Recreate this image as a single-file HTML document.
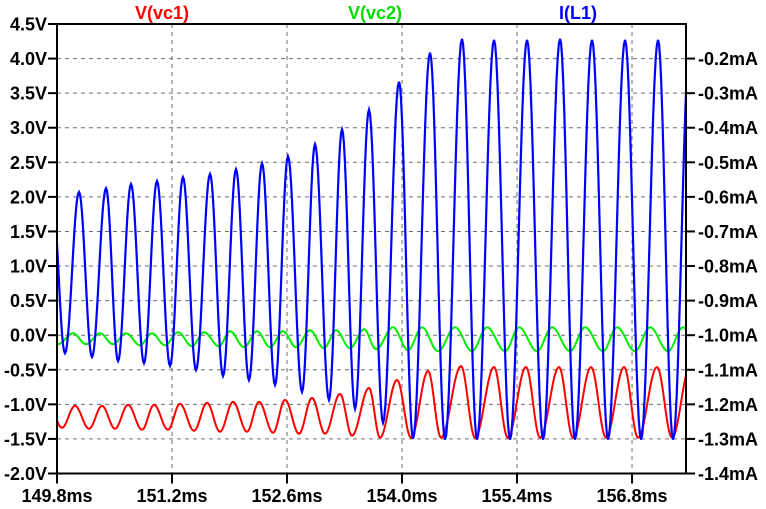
<!DOCTYPE html>
<html><head><meta charset="utf-8">
<style>
html,body{margin:0;padding:0;background:#fff;}
svg{display:block;font-family:"Liberation Sans",Arial,sans-serif;font-weight:bold;}
</style></head>
<body>
<svg id="chart" width="766" height="509" viewBox="0 0 766 509">
  <defs><clipPath id="plotclip"><rect x="57" y="24" width="629" height="450"/></clipPath></defs>
  <g id="grid"></g>
  <g id="series" clip-path="url(#plotclip)"></g>
  <rect x="57" y="24" width="629" height="449.5" fill="none" stroke="#000" stroke-width="2"/>
  <g id="axes"></g>
  <text x="162" y="19" fill="#ff0000" font-size="18" text-anchor="middle">V(vc1)</text>
  <text x="375" y="19" fill="#00dd00" font-size="18" text-anchor="middle">V(vc2)</text>
  <text x="578" y="19" fill="#0000ff" font-size="18" text-anchor="middle">I(L1)</text>
</svg>
<script>
// ---- axis data ----
const xTicks = [149.8, 151.2, 152.6, 154.0, 155.4, 156.8];
const xTickLabels = ["149.8ms","151.2ms","152.6ms","154.0ms","155.4ms","156.8ms"];
const yTicks = [4.5,4.0,3.5,3.0,2.5,2.0,1.5,1.0,0.5,0.0,-0.5,-1.0,-1.5,-2.0];
const yTickLabels = ["4.5V","4.0V","3.5V","3.0V","2.5V","2.0V","1.5V","1.0V","0.5V","0.0V","-0.5V","-1.0V","-1.5V","-2.0V"];
const y2Ticks = [-0.2,-0.3,-0.4,-0.5,-0.6,-0.7,-0.8,-0.9,-1.0,-1.1,-1.2,-1.3,-1.4];
const y2TickLabels = ["-0.2mA","-0.3mA","-0.4mA","-0.5mA","-0.6mA","-0.7mA","-0.8mA","-0.9mA","-1.0mA","-1.1mA","-1.2mA","-1.3mA","-1.4mA"];

// ---- series data: extrema (time ms, value) ----
const vc1Times = [149.703,149.861,150.019,150.190,150.348,150.506,150.664,150.835,150.981,151.151,151.297,151.468,151.626,151.784,151.943,152.113,152.259,152.430,152.576,152.746,152.904,153.063,153.245,153.391,153.598,153.732,153.939,154.110,154.317,154.475,154.718,154.889,155.120,155.287,155.509,155.680,155.911,156.082,156.301,156.483,156.703,156.873,157.104,157.287,157.506];
const vc1Values = [-1.022,-1.338,-1.022,-1.353,-1.022,-1.353,-1.008,-1.367,-1.008,-1.367,-0.993,-1.382,-0.979,-1.396,-0.964,-1.396,-0.964,-1.410,-0.936,-1.425,-0.907,-1.425,-0.849,-1.453,-0.763,-1.482,-0.648,-1.482,-0.519,-1.482,-0.447,-1.482,-0.461,-1.482,-0.461,-1.482,-0.461,-1.482,-0.461,-1.482,-0.461,-1.482,-0.461,-1.482,-0.461];

const vc2Times = [149.812,149.995,150.153,150.323,150.482,150.640,150.810,150.957,151.115,151.273,151.443,151.590,151.772,151.906,152.077,152.235,152.393,152.551,152.710,152.880,153.050,153.197,153.367,153.537,153.684,153.890,154.073,154.243,154.438,154.645,154.852,155.035,155.255,155.424,155.643,155.826,156.045,156.228,156.447,156.617,156.836,157.019,157.238,157.421,157.628];
const vc2Values = [-0.130,0.028,-0.130,0.028,-0.130,0.028,-0.145,0.028,-0.145,0.042,-0.159,0.042,-0.159,0.057,-0.173,0.057,-0.173,0.057,-0.173,0.071,-0.188,0.071,-0.188,0.085,-0.202,0.114,-0.216,0.114,-0.231,0.114,-0.231,0.114,-0.231,0.114,-0.231,0.114,-0.231,0.114,-0.231,0.114,-0.231,0.114,-0.231,0.114,-0.231];

const il1Times = [149.739,149.897,150.068,150.226,150.397,150.543,150.701,150.859,151.017,151.176,151.334,151.492,151.663,151.821,151.979,152.137,152.296,152.454,152.612,152.783,152.941,153.111,153.270,153.428,153.598,153.769,153.964,154.134,154.341,154.524,154.730,154.913,155.120,155.315,155.522,155.717,155.924,156.106,156.313,156.508,156.715,156.910,157.117,157.299,157.506];
const il1Values = [-0.583,-1.052,-0.586,-1.063,-0.575,-1.075,-0.563,-1.081,-0.554,-1.089,-0.543,-1.101,-0.534,-1.118,-0.520,-1.130,-0.503,-1.144,-0.483,-1.164,-0.448,-1.187,-0.405,-1.213,-0.348,-1.253,-0.267,-1.299,-0.183,-1.302,-0.143,-1.302,-0.146,-1.302,-0.146,-1.302,-0.143,-1.302,-0.146,-1.302,-0.146,-1.302,-0.146,-1.302,-0.146];

// ---- axis functions ----
const X0=57, X1=686, T0=149.8, T1=157.457;
const YTOP=24, YBOT=473.5;
function xs(t){ return X0 + (t-T0)/(T1-T0)*(X1-X0); }
function ys(v){ return YBOT - (v+2.0)/6.5*(YBOT-YTOP); }
function ys2(i){ return YBOT - (i+1.4)/1.3*(YBOT-YTOP); }

const NS="http://www.w3.org/2000/svg";
const grid=document.getElementById('grid'), axes=document.getElementById('axes'), series=document.getElementById('series');
function mk(tag, attrs, parent){ const e=document.createElementNS(NS,tag); for(const k in attrs) e.setAttribute(k,attrs[k]); parent.appendChild(e); return e; }

xTicks.forEach((t,i)=>{
  const x=xs(t);
  if(i>0){ const g=mk('line',{x1:x,y1:YTOP,x2:x,y2:YBOT,stroke:'#707070','stroke-width':1,'stroke-dasharray':'4,4'},grid);
      }
  const tk=mk('line',{x1:x,y1:YBOT,x2:x,y2:YBOT+10,stroke:'#000','stroke-width':2},axes);
   
  const tx=mk('text',{x:x,y:502,'font-size':18,'text-anchor':'middle',fill:'#000'},axes);
   
  tx.textContent=xTickLabels[i];
});
yTicks.forEach((v,i)=>{
  const y=ys(v);
  if(i>0 && i<yTicks.length-1){ const g=mk('line',{x1:X0,y1:y,x2:X1,y2:y,stroke:'#707070','stroke-width':1,'stroke-dasharray':'4,4'},grid);
      }
  const tk=mk('line',{x1:X0-9,y1:y,x2:X0,y2:y,stroke:'#000','stroke-width':2},axes);
   
  const tx=mk('text',{x:47,y:y+6.5,'font-size':18,'text-anchor':'end',fill:'#000'},axes);
   
  tx.textContent=yTickLabels[i];
});
y2Ticks.forEach((v,i)=>{
  const y=ys2(v);
  const tk=mk('line',{x1:X1,y1:y,x2:X1+9,y2:y,stroke:'#000','stroke-width':2},axes);
   
  const tx=mk('text',{x:698,y:y+6.5,'font-size':18,'text-anchor':'start',fill:'#000'},axes);
   
  tx.textContent=y2TickLabels[i];
});

function wavePath(times, values, yf){
  let d='';
  for(let k=0;k<times.length-1;k++){
    const ta=times[k], tb=times[k+1], a=values[k], b=values[k+1];
    const n=14;
    for(let j=(k===0?0:1);j<=n;j++){
      const u=j/n, t=ta+(tb-ta)*u, v=a+(b-a)*(1-Math.cos(Math.PI*u))/2;
      d+=(d===''?'M':'L')+xs(t).toFixed(2)+','+yf(v).toFixed(2);
    }
  }
  return d;
}
const p2=mk('path',{d:wavePath(vc2Times,vc2Values,ys),fill:'none',stroke:'#00ee00','stroke-width':2},series);
 
const p1=mk('path',{d:wavePath(vc1Times,vc1Values,ys),fill:'none',stroke:'#ff0000','stroke-width':2},series);
 
const p3=mk('path',{d:wavePath(il1Times,il1Values,ys2),fill:'none',stroke:'#0000ff','stroke-width':2.2},series);
 
</script>
</body></html>
